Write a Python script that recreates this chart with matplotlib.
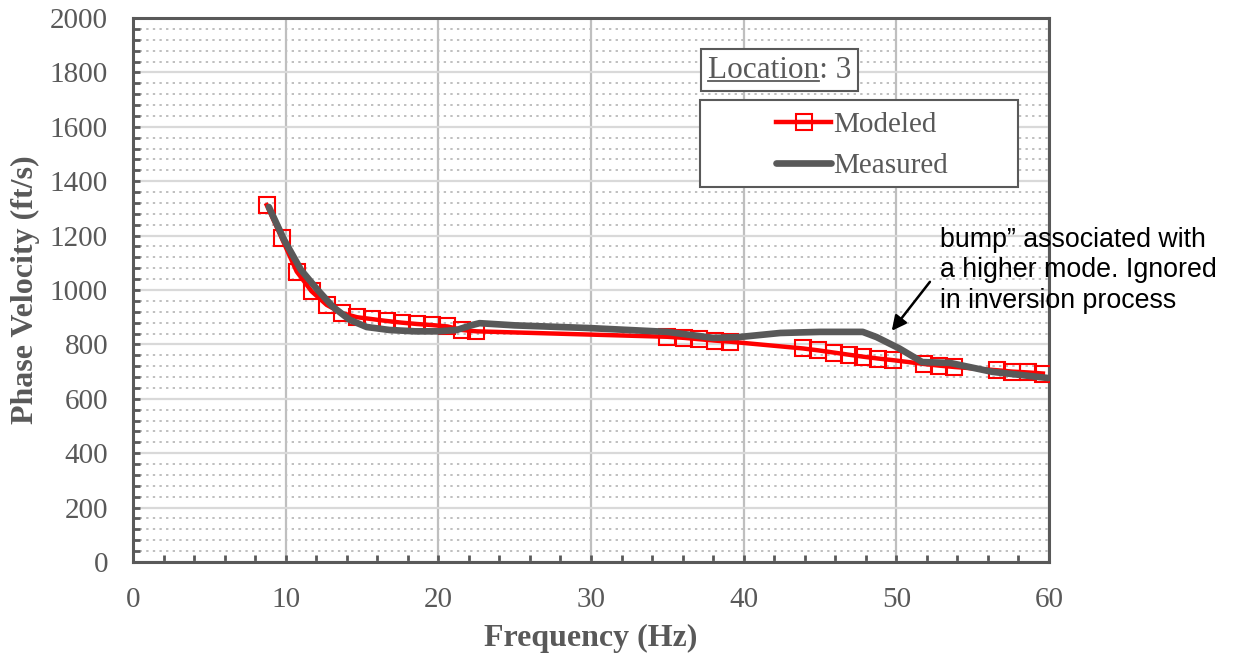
import numpy as np
import matplotlib.pyplot as plt
from matplotlib.patches import Rectangle
from matplotlib.lines import Line2D
from matplotlib.ticker import MultipleLocator

# ---- data ----
mod_freq = [8.76, 9.74, 10.72, 11.70, 12.69, 13.69, 14.67, 15.65, 16.63, 17.60,
            18.60, 19.60, 20.60, 21.55, 22.50,
            35.0, 36.1, 37.1, 38.1, 39.1,
            43.9, 44.9, 45.9, 46.9, 47.8, 48.8, 49.8,
            51.8, 52.8, 53.8,
            56.6, 57.6, 58.6, 59.6]
mod_vel = [1312, 1191, 1068, 995, 945, 915, 900, 893, 886, 880,
           875, 871, 866, 853, 848,
           828, 824, 819, 814, 810,
           785, 778, 770, 762, 755, 748, 742,
           728, 722, 717,
           705, 700, 697, 693]

meas_freq = [8.9, 9.9, 11.0, 12.1, 13.1, 14.2, 15.3, 16.8, 18.5, 20.0, 21.2, 22.2,
             22.7, 25.0, 29.9, 35.0, 38.0, 39.7, 42.4, 45.0, 47.8, 48.7, 50.2,
             51.7, 53.5, 56.3, 60.0]
meas_vel = [1305, 1184, 1074, 1000, 938, 890, 864, 853, 848, 848, 853, 871,
            878, 870, 860, 846, 824, 827, 842, 846, 846, 827, 785,
            735, 732, 699, 676]

location = "3"
note = "bump\u201d associated with\na higher mode. Ignored\nin inversion process"

GRAY = '#595959'
SERIF = ['Liberation Serif', 'DejaVu Serif']

fig = plt.figure(figsize=(12.48, 6.62), dpi=100)
ax = fig.add_axes([133/1248, 1 - 562/662, (1049-133)/1248, (562-18)/662])

ax.plot(mod_freq, mod_vel, color='#ff0000', lw=3.2, marker='s', ms=11.5,
        mfc='none', mec='#ff0000', mew=1.5, zorder=3, label='Modeled')
ax.plot(meas_freq, meas_vel, color=GRAY, lw=4.8, solid_capstyle='round',
        solid_joinstyle='round', zorder=4, label='Measured')

ax.set_xlim(0, 60)
ax.set_ylim(0, 2000)
ax.xaxis.set_major_locator(MultipleLocator(10))
ax.xaxis.set_minor_locator(MultipleLocator(2))
ax.yaxis.set_major_locator(MultipleLocator(200))
ax.yaxis.set_minor_locator(MultipleLocator(40))

ax.grid(axis='x', which='major', color='#bfbfbf', lw=1.6)
ax.grid(axis='y', which='major', color='#d9d9d9', lw=1.6)
ax.grid(axis='y', which='minor', color='#bfbfbf', lw=1.4, ls=(0, (1.2, 2.2)))
ax.set_axisbelow(True)

for s in ax.spines.values():
    s.set_color(GRAY)
    s.set_linewidth(2.2)

ax.tick_params(which='both', direction='in', color=GRAY, width=2, length=5,
               top=False, right=False)
ax.tick_params(axis='y', which='major', pad=18, labelsize=21, labelcolor=GRAY)
ax.tick_params(axis='x', which='major', pad=18, labelsize=21, labelcolor=GRAY)
for lab in ax.get_xticklabels() + ax.get_yticklabels():
    lab.set_fontfamily(SERIF)

fig.text(591/1248, 1 - 638/662, 'Frequency (Hz)', ha='center', va='center',
         fontsize=23, fontweight='bold', color=GRAY, family=SERIF)
fig.text(25/1248, 1 - 290/662, 'Phase Velocity (ft/s)', ha='center', va='center',
         rotation=90, fontsize=23, fontweight='bold', color=GRAY, family=SERIF)

# legend with its own wide frame
def ax_frac(px, py):
    return (px - 133) / 916, (562 - py) / 544

x0, y1 = ax_frac(700, 100)
x1, y0 = ax_frac(1018, 187)
ax.add_patch(Rectangle((x0, y0), x1 - x0, y1 - y0, transform=ax.transAxes,
                       facecolor='white', edgecolor=GRAY, lw=1.5, zorder=5))
leg = ax.legend(loc='center', bbox_to_anchor=((x0 + x1) / 2 + 0.003, (y0 + y1) / 2 - 0.004),
                frameon=False, handlelength=1.9, handletextpad=0.05,
                labelspacing=0.5, prop={'family': SERIF, 'size': 21})
leg.set_zorder(6)
for t in leg.get_texts():
    t.set_color(GRAY)

# location box with underlined word
lx, ly = ax_frac(708, 70)
FS_LOC = 22.5
loc_txt = ax.text(lx, ly, 'Location: ' + location, transform=ax.transAxes,
                  ha='left', va='center', fontsize=FS_LOC, color=GRAY, family=SERIF,
                  zorder=7,
                  bbox=dict(boxstyle='square,pad=0.22', fc='white', ec=GRAY, lw=1.5))
fig.canvas.draw()
r = fig.canvas.get_renderer()
bb = loc_txt.get_window_extent(r)
tmp = fig.text(0, 0, 'Location', fontsize=FS_LOC, family=SERIF)
w = tmp.get_window_extent(r).width
tmp.remove()
uy = bb.y0 + 4
fig.add_artist(Line2D([bb.x0 / 1248, (bb.x0 + w) / 1248], [uy / 662, uy / 662],
                      color=GRAY, lw=1.3, zorder=8))

# annotation
ax.annotate('', xy=(49.7, 850), xytext=(52.2, 1030),
            arrowprops=dict(arrowstyle='-|>', color='black', lw=1.8,
                            mutation_scale=22, shrinkA=0, shrinkB=0), zorder=8)
fig.text(940/1248, 1 - 227/662, note, ha='left', va='top', fontsize=19.3,
         family=['Liberation Sans', 'DejaVu Sans'], color='black',
         linespacing=1.22, zorder=9)

fig.savefig('out.png', dpi=100)
